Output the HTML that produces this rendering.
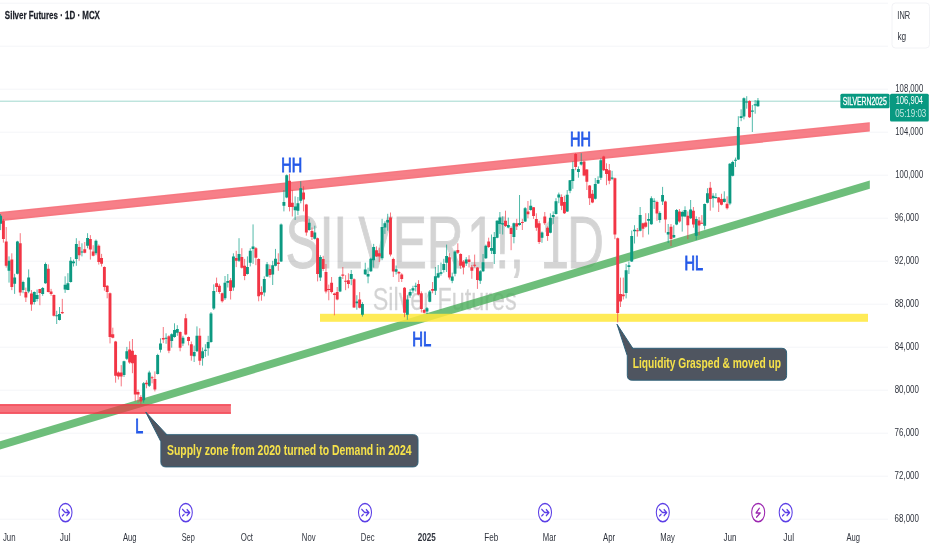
<!DOCTYPE html>
<html lang="en"><head><meta charset="utf-8"><title>Silver Futures · 1D · MCX</title>
<style>
html,body{margin:0;padding:0;background:#fff;}
body{width:932px;height:550px;overflow:hidden;}
svg{display:block;}
text{font-family:"Liberation Sans","DejaVu Sans",sans-serif;}
.ax{fill:#2f333d;}
.lbl{fill:#2459e8;stroke:#2459e8;stroke-width:0.9;}
.co{fill:#f6e24a;}
</style></head><body>
<svg width="932" height="550" viewBox="0 0 932 550">
<defs><filter id="bl" x="0" y="0" width="932" height="550" filterUnits="userSpaceOnUse"><feGaussianBlur stdDeviation="0.3 0.2"/></filter></defs>
<rect width="932" height="550" fill="#ffffff"/>
<g stroke="#f4f5f8" stroke-width="1" fill="none">
<line x1="0" y1="3.2" x2="888" y2="3.2"/>
<line x1="0" y1="46.2" x2="888" y2="46.2"/>
<line x1="0" y1="89.2" x2="888" y2="89.2"/>
<line x1="0" y1="132.2" x2="888" y2="132.2"/>
<line x1="0" y1="175.2" x2="888" y2="175.2"/>
<line x1="0" y1="218.2" x2="888" y2="218.2"/>
<line x1="0" y1="261.2" x2="888" y2="261.2"/>
<line x1="0" y1="304.2" x2="888" y2="304.2"/>
<line x1="0" y1="347.2" x2="888" y2="347.2"/>
<line x1="0" y1="390.2" x2="888" y2="390.2"/>
<line x1="0" y1="433.2" x2="888" y2="433.2"/>
<line x1="0" y1="476.2" x2="888" y2="476.2"/>
<line x1="0" y1="519.2" x2="888" y2="519.2"/>
</g>
<g fill="#000" stroke="#000" stroke-width="1.1" opacity="0.165">
<text transform="translate(0 267.6) scale(0.6963 1)" font-size="73.5"><tspan x="410">SILVER</tspan><tspan x="670.81">1</tspan><tspan x="711.28">!</tspan><tspan x="732.25">, </tspan><tspan x="776.08">1</tspan><tspan x="814.21">D</tspan></text>
</g>
<g fill="#000" stroke="#000" stroke-width="0.3" opacity="0.17">
<text transform="translate(372.7 310.2) scale(0.7416 1)" font-size="31.5">Silver Futures</text>
</g>
<line x1="0" y1="101.2" x2="890" y2="101.2" stroke="#089981" stroke-opacity="0.38" stroke-width="1"/>
<path d="M-2 212.21L869.8 122.15V131.45L-2 221.51z" fill="#f23645" fill-opacity="0.64"/>
<path d="M-2 212.81L869.3 122.76M-2 220.49L869.3 130.44" stroke="#f23645" stroke-opacity="0.1" stroke-width="1.6" fill="none"/>
<path d="M-2 441.8L869.8 180.43V188.73L-2 450.1z" fill="#4aae5a" fill-opacity="0.8"/>
<rect x="320" y="313.8" width="548" height="8" fill="#ffe83a" fill-opacity="0.85"/>
<rect x="-2" y="404.1" width="232.9" height="9.8" fill="#f23645" fill-opacity="0.7"/>
<path d="M-2 405H230.9M-2 413H230.9" stroke="#f23645" stroke-opacity="0.45" stroke-width="1.8" fill="none"/>
<g filter="url(#bl)">
<path d="M0.6 214V230.1M9.02 256.4V282.6M14.62 273.8V293.9M17.43 240.8V274.4M23.04 280.7V293.2M28.65 269.4V293.2M34.26 291.4V304.5M37.07 289.5V301.4M42.68 287V295.8M45.48 262.5V283.8M56.7 310.8V324M59.51 307V320.5M65.11 276.3V292.9M67.92 273.2V290.1M70.72 257.1V282.6M73.53 259.6V266.5M76.33 238.2V265.8M81.94 243.3V256.4M87.55 233.2V248.3M95.97 239.5V255.2M124.02 360.7V377M126.83 346.9V360M143.66 382V402.7M149.27 370.7V387M157.68 353.8V374.5M160.49 338.3V352.5M166.09 333.3V343.8M171.71 333.3V347.7M174.51 323.3V337.7M177.31 325.2V335.8M182.93 335.8V346.1M194.15 345.6V362M196.95 326.4V351.9M202.56 347.5V365.7M205.37 344.2V356.9M208.17 335.8V355.7M210.97 312V342.8M213.78 284.4V310M225 276V300M227.81 274V287.5M233.42 253.3V290.7M239.03 238.2V262M247.44 256.4V274.5M250.25 248.2V266.4M253.05 224.4V263.9M264.27 276.3V296.3M267.08 262V277M272.69 260.8V285M275.49 248.9V266.4M281.1 223.5V262M283.91 190.1V211.4M286.71 174.4V198.2M295.13 196.4V220M297.93 197V215.2M300.74 181.3V203.3M309.15 218.8V230.7M314.76 225.7V239.5M320.37 255.2V281M340.01 275.8V292.1M351.23 270V285.2M356.84 295.2V309.7M362.45 302.2V316.6M365.25 262.7V275M368.06 267.7V283.3M370.86 257.7V272M373.67 243.9V267.6M382.08 218.8V260.2M384.89 221.3V233.9M387.69 213.8V230.7M396.11 265.5V274.5M407.33 295.2V319.7M410.13 289V297.8M412.94 285.8V293.4M415.74 282.7V291.5M426.96 307V314M429.77 290V302.3M435.38 267V295M438.18 265V278.2M440.99 262.5V275.7M443.79 258.8V272.6M446.6 244.6V272M452.21 272.6V283.2M455.01 250.2V276.3M466.23 257.1V266M480.26 270V283.9M483.06 254V272M485.87 244.6V259M491.48 234.5V254M494.28 232V264M497.09 220.1V238.3M499.89 212V233.9M502.7 216.3V234.5M508.31 217.6V228.3M513.92 222.6V243.3M519.53 195V225.7M525.14 207V222M530.75 199.5V210.7M541.97 231.5V242.8M550.38 213.3V233.3M553.19 211.4V223.9M555.99 198.2V214.5M558.8 192.6V203.2M567.21 190V212M570.02 180V193.2M572.82 161.4V188.8M578.43 166.4V177.7M581.24 153.2V165.5M595.26 178V199.5M598.07 176.3V184M600.87 158.3V180M612.09 170.8V180.2M626.12 263.9V298.4M628.92 261.4V274M631.73 230.5V262M634.53 225.2V243.5M640.14 207V231.4M648.56 213.2V234.5M651.36 196.3V224.8M654.17 198.2V208.9M659.78 211.4V222.7M662.58 186.9V205M668.19 224V243M673.8 225.2V238.2M676.61 209V225.2M682.22 210.7V231.6M685.02 206.3V217.2M690.63 200V219M696.24 216.4V240.1M704.66 203.5V229.6M707.46 188.2V203.4M713.07 193.2V207.6M715.88 193.2V198.8M724.29 191.3V202.6M729.9 163V205.2M732.71 160.7V176.4M735.51 157.6V167M738.32 116.2V160M741.12 109.3V121.2M743.93 97.4V119.4M746.73 96.2V108.7M752.34 105V132M755.15 100V113.7M757.95 98V106.8" stroke="#089981" stroke-width="1" stroke-opacity="0.68" fill="none"/>
<path d="M3.41 219V242.6M6.21 227V267.6M11.82 253.3V290.1M20.24 233.2V295.8M25.85 287.6V302M31.46 290.1V310.8M39.87 288.9V305.2M48.29 264.4V292.4M51.09 288.9V295.8M53.9 294.5V316.5M62.31 298.9V314M79.14 240.8V260.8M84.75 242V253.3M90.36 235.1V259.6M93.17 245.2V256.4M98.78 244.5V264.6M101.58 253.9V266.5M104.39 266.3V290.7M107.19 285.1V298.3M110 292.5V343.4M112.8 327.7V338.3M115.61 340.9V382.7M118.41 371.4V379.5M121.22 365.1V386.4M129.63 341.3V363.8M132.44 339V373.2M135.24 354.4V401.5M138.05 389.6V402.7M140.85 395.2V404M146.46 380.2V388.3M152.07 375.8V383.3M154.88 371.4V391.4M163.29 327V343.1M168.9 335.2V353.2M180.12 331.4V351.3M185.73 313.9V335.2M188.53 336.5V345.4M191.34 341.5V360.7M199.75 328.3V365.1M216.59 277.6V292M219.39 283.8V293.8M222.19 292.6V302.6M230.61 278V299.5M236.22 250.8V267.1M241.83 248.2V268.5M244.64 258.9V280.2M255.86 247V265.2M258.66 258.3V301.3M261.47 286.3V300.7M269.88 264.6V277.5M278.3 253.3V270.8M289.52 173.8V211.4M292.32 190.1V216.5M303.54 186.3V211.4M306.35 203.9V235.7M311.96 227.5V240M317.57 237.6V281.4M323.18 255.8V271M325.98 264V293.4M328.79 284.6V300.3M331.59 277V293.4M334.4 292.7V315.3M337.2 287V300.3M342.81 267V279M345.62 275.2V290.2M348.42 273.3V288.3M354.03 278.3V308M359.64 292.1V308.4M376.47 246.4V257M379.28 247.7V262M390.5 212.5V256.4M393.3 257.7V277M398.91 271V282M401.72 273.3V282M404.52 287V317.2M418.55 280.2V295.2M421.35 291.4V312.5M424.16 309V313.5M432.57 282V293.3M449.4 253.3V279.5M457.82 243.3V254M460.62 253.3V268.8M463.43 260V274.4M469.04 255.2V267.5M471.84 265V278.8M474.65 254.6V267.5M477.45 267V288.9M488.67 237.7V248M505.5 210.7V227M511.11 226.4V250.2M516.72 218.8V230M522.33 218.8V230M527.94 201V218.3M533.55 207V218.9M536.36 213.3V230.8M539.16 220.8V244M544.77 212V225M547.58 226.4V240.9M561.6 194.4V210.1M564.41 195.7V214M575.62 153.2V170.2M584.04 160.8V176.3M586.85 169V190M589.65 185V205M592.46 190V203.2M603.68 155.8V171M606.48 163.3V185.2M609.29 164V184.2M614.9 177.5V239.2M617.7 237.5V322.4M620.51 277.6V307M623.31 277.6V299.5M637.34 228V236.6M642.95 222.7V237.3M645.75 213.2V227.7M656.97 200.7V220.8M665.39 200.7V232.6M671 224V246M679.41 209V222.7M687.83 211.4V239.2M693.44 207V227.7M699.05 217V235.1M701.85 215.1V223.8M710.27 181.9V210.7M718.68 197V212M721.49 193.8V205.4M727.1 196.3V209.5M749.54 100.3V118" stroke="#f23645" stroke-width="1" stroke-opacity="0.68" fill="none"/>
<path d="M-0.85 215.7h2.9V223.8h-2.9zM7.57 260.8h2.9V270.7h-2.9zM13.18 277.6h2.9V283.8h-2.9zM15.98 241.4h2.9V273.8h-2.9zM21.59 282h2.9V290.1h-2.9zM27.2 277.6h2.9V291.4h-2.9zM32.81 292h2.9V302h-2.9zM35.62 295.1h2.9V298.9h-2.9zM41.23 287.9h2.9V294.1h-2.9zM44.03 264h2.9V283.2h-2.9zM55.25 315.2h2.9V316.2h-2.9zM58.05 314h2.9V320h-2.9zM63.66 284.8h2.9V289.5h-2.9zM66.47 283.2h2.9V289.9h-2.9zM69.27 260.8h2.9V282h-2.9zM72.08 261.5h2.9V263.3h-2.9zM74.88 244.1h2.9V259h-2.9zM80.49 251.4h2.9V252.4h-2.9zM86.1 237.9h2.9V245.8h-2.9zM94.52 240.8h2.9V253.3h-2.9zM122.57 361.3h2.9V375.1h-2.9zM125.38 351.3h2.9V358.8h-2.9zM142.21 383.3h2.9V400.2h-2.9zM147.82 372.4h2.9V385.8h-2.9zM156.23 355.1h2.9V373.9h-2.9zM159.04 343.4h2.9V349.8h-2.9zM164.65 337.7h2.9V338.7h-2.9zM170.26 334.2h2.9V340.9h-2.9zM173.06 329.9h2.9V337.1h-2.9zM175.87 328.9h2.9V332.7h-2.9zM181.48 337.7h2.9V343.6h-2.9zM192.7 351.9h2.9V356.3h-2.9zM195.5 335.8h2.9V351.3h-2.9zM201.11 351.3h2.9V358.2h-2.9zM203.92 349.75h2.9V350.75h-2.9zM206.72 342.1h2.9V348.2h-2.9zM209.53 313.6h2.9V342h-2.9zM212.33 291h2.9V308.6h-2.9zM223.55 282.8h2.9V298.2h-2.9zM226.36 280.9h2.9V282.8h-2.9zM231.97 256.4h2.9V287.5h-2.9zM237.58 253.9h2.9V260.8h-2.9zM245.99 267.1h2.9V274h-2.9zM248.8 250.8h2.9V262.7h-2.9zM251.6 246.4h2.9V248.9h-2.9zM262.82 279h2.9V292.6h-2.9zM265.63 264.2h2.9V276.5h-2.9zM271.24 265.2h2.9V274.6h-2.9zM274.04 258.7h2.9V265.8h-2.9zM279.65 224.4h2.9V261.4h-2.9zM282.46 202h2.9V205.8h-2.9zM285.26 175.3h2.9V197.6h-2.9zM293.68 206.4h2.9V210.2h-2.9zM296.48 203.3h2.9V210.8h-2.9zM299.29 188.2h2.9V200.8h-2.9zM307.7 222.8h2.9V230h-2.9zM313.31 232.6h2.9V238.8h-2.9zM318.92 257h2.9V277.6h-2.9zM338.56 277h2.9V291.5h-2.9zM349.78 273.9h2.9V278.9h-2.9zM355.39 301.5h2.9V303.2h-2.9zM361 304h2.9V314.7h-2.9zM363.8 269.5h2.9V274.3h-2.9zM366.61 273.9h2.9V276.4h-2.9zM369.41 258.7h2.9V271.2h-2.9zM372.22 247h2.9V260.2h-2.9zM380.63 227h2.9V258.3h-2.9zM383.44 223.2h2.9V227.6h-2.9zM386.24 220h2.9V222.6h-2.9zM394.66 269.2h2.9V271.7h-2.9zM405.88 299.6h2.9V314.7h-2.9zM408.68 292h2.9V295.6h-2.9zM411.49 288.3h2.9V290.6h-2.9zM414.29 285.7h2.9V286.7h-2.9zM425.51 308.3h2.9V311.5h-2.9zM428.32 291.4h2.9V301.7h-2.9zM433.93 276.3h2.9V290.8h-2.9zM436.73 273.2h2.9V277.6h-2.9zM439.54 272.3h2.9V273.8h-2.9zM442.34 264h2.9V270h-2.9zM445.15 255.9h2.9V262.8h-2.9zM450.76 276.6h2.9V280.7h-2.9zM453.56 251.5h2.9V273.8h-2.9zM464.78 259.6h2.9V263.5h-2.9zM478.81 271.3h2.9V280.7h-2.9zM481.61 262.2h2.9V271.3h-2.9zM484.42 245.8h2.9V258.3h-2.9zM490.03 248h2.9V250.8h-2.9zM492.83 237h2.9V254h-2.9zM495.64 220.7h2.9V237.7h-2.9zM498.44 217.6h2.9V223.9h-2.9zM501.25 223.2h2.9V224.5h-2.9zM506.86 225h2.9V227.4h-2.9zM512.47 223.2h2.9V237h-2.9zM518.08 222.9h2.9V224.9h-2.9zM523.69 208.2h2.9V221.5h-2.9zM529.29 205.8h2.9V210h-2.9zM540.51 232.5h2.9V237.7h-2.9zM548.93 217.7h2.9V232.7h-2.9zM551.74 214.9h2.9V217h-2.9zM554.54 201.3h2.9V213.9h-2.9zM557.35 194.4h2.9V197.6h-2.9zM565.76 194.8h2.9V211.4h-2.9zM568.57 180.3h2.9V190.7h-2.9zM571.37 168.9h2.9V181h-2.9zM576.98 168.9h2.9V172h-2.9zM579.78 162h2.9V164.5h-2.9zM593.81 184h2.9V198.8h-2.9zM596.62 180.1h2.9V183.5h-2.9zM599.42 160.2h2.9V177.8h-2.9zM610.64 177.5h2.9V178.7h-2.9zM624.66 270.2h2.9V292.9h-2.9zM627.47 265.2h2.9V267h-2.9zM630.27 236h2.9V261.4h-2.9zM633.08 229.7h2.9V231.3h-2.9zM638.69 215.1h2.9V230.8h-2.9zM647.11 218.9h2.9V220.8h-2.9zM649.91 198.2h2.9V224.2h-2.9zM652.72 200.65h2.9V201.65h-2.9zM658.33 212.9h2.9V219.9h-2.9zM661.13 195h2.9V201.6h-2.9zM666.74 232h2.9V234.5h-2.9zM672.35 235h2.9V237.5h-2.9zM675.15 209.9h2.9V224.5h-2.9zM680.76 212h2.9V216.6h-2.9zM683.57 209.9h2.9V216.6h-2.9zM689.18 209.5h2.9V218.3h-2.9zM694.79 218.9h2.9V235.8h-2.9zM703.21 204.1h2.9V225.8h-2.9zM706.01 193.2h2.9V202.8h-2.9zM711.62 195.7h2.9V198.2h-2.9zM714.43 196.9h2.9V197.9h-2.9zM722.84 198.8h2.9V202h-2.9zM728.45 163.8h2.9V203.5h-2.9zM731.25 162h2.9V175.8h-2.9zM734.06 159.75h2.9V160.75h-2.9zM736.87 126.9h2.9V159.4h-2.9zM739.67 116.2h2.9V118.1h-2.9zM742.48 98.3h2.9V116.6h-2.9zM745.28 101.5h2.9V102.5h-2.9zM750.89 110.6h2.9V111.8h-2.9zM753.7 104.3h2.9V105.6h-2.9zM756.5 100.5h2.9V106.2h-2.9z" fill="#089981"/>
<path d="M1.96 220.7h2.9V238.9h-2.9zM4.76 241.4h2.9V265.8h-2.9zM10.37 259.6h2.9V287h-2.9zM18.79 243.3h2.9V292.6h-2.9zM24.4 292h2.9V297.6h-2.9zM30.01 293.6h2.9V304.5h-2.9zM38.42 289.1h2.9V292.9h-2.9zM46.84 268.8h2.9V292h-2.9zM49.64 291.4h2.9V294.1h-2.9zM52.45 294.9h2.9V315.8h-2.9zM60.86 312h2.9V313.3h-2.9zM77.69 247h2.9V255.2h-2.9zM83.3 249.2h2.9V252.7h-2.9zM88.91 239.1h2.9V249.5h-2.9zM91.72 251.4h2.9V255.8h-2.9zM97.33 245.8h2.9V262.1h-2.9zM100.13 258h2.9V263.7h-2.9zM102.94 266.9h2.9V287h-2.9zM105.74 285.7h2.9V292h-2.9zM108.55 293.2h2.9V337.1h-2.9zM111.35 334.2h2.9V337.7h-2.9zM114.16 341.5h2.9V375.8h-2.9zM116.96 372.4h2.9V376.4h-2.9zM119.77 372.4h2.9V376.4h-2.9zM128.18 349.4h2.9V362.6h-2.9zM130.99 350.7h2.9V363.2h-2.9zM133.79 355.1h2.9V394.6h-2.9zM136.6 392.1h2.9V394.6h-2.9zM139.4 397.1h2.9V401.5h-2.9zM145.01 382.7h2.9V384.2h-2.9zM150.62 377.35h2.9V378.35h-2.9zM153.43 378.9h2.9V389.6h-2.9zM161.84 338h2.9V339.6h-2.9zM167.45 336.2h2.9V350.7h-2.9zM178.67 332.1h2.9V347.7h-2.9zM184.28 318.3h2.9V334.6h-2.9zM187.09 337.1h2.9V341h-2.9zM189.89 344.2h2.9V355.7h-2.9zM198.31 335.8h2.9V360.7h-2.9zM215.14 283.2h2.9V286.9h-2.9zM217.94 285.7h2.9V292h-2.9zM220.75 293.2h2.9V301.3h-2.9zM229.16 280.3h2.9V291h-2.9zM234.77 257.9h2.9V260.8h-2.9zM240.38 257h2.9V267.7h-2.9zM243.19 265.8h2.9V276h-2.9zM254.41 248.2h2.9V257.7h-2.9zM257.21 258.9h2.9V296.3h-2.9zM260.02 292h2.9V294.8h-2.9zM268.43 269h2.9V275h-2.9zM276.85 262.4h2.9V263.9h-2.9zM288.07 180.7h2.9V207h-2.9zM290.87 202.7h2.9V207h-2.9zM302.09 192.4h2.9V199.5h-2.9zM304.9 204.5h2.9V232.6h-2.9zM310.51 231h2.9V237h-2.9zM316.12 238.2h2.9V274h-2.9zM321.73 259h2.9V269h-2.9zM324.53 272h2.9V291.5h-2.9zM327.34 289h2.9V290h-2.9zM330.14 282.7h2.9V292.1h-2.9zM332.95 293.4h2.9V294.9h-2.9zM335.75 291.9h2.9V299.6h-2.9zM341.36 274.5h2.9V275.8h-2.9zM344.17 280.8h2.9V281.8h-2.9zM346.97 280.2h2.9V284h-2.9zM352.58 279.3h2.9V307.4h-2.9zM358.19 299.4h2.9V307.8h-2.9zM375.02 250.2h2.9V256.4h-2.9zM377.83 253.3h2.9V256.4h-2.9zM389.05 217.5h2.9V254.6h-2.9zM391.85 259h2.9V271.4h-2.9zM397.46 272h2.9V273.5h-2.9zM400.27 274.5h2.9V279h-2.9zM403.07 287.7h2.9V312.8h-2.9zM417.1 284h2.9V294.6h-2.9zM419.9 293.3h2.9V309h-2.9zM422.71 310h2.9V312.7h-2.9zM431.12 289h2.9V290.8h-2.9zM447.95 257.2h2.9V277.6h-2.9zM456.37 250h2.9V252.7h-2.9zM459.17 254h2.9V265.7h-2.9zM461.98 261.4h2.9V267.5h-2.9zM467.59 259.5h2.9V262h-2.9zM470.39 267.3h2.9V270.7h-2.9zM473.2 264.75h2.9V265.75h-2.9zM476 267.5h2.9V280h-2.9zM487.22 241.4h2.9V247.1h-2.9zM504.05 220.7h2.9V226.1h-2.9zM509.66 227.9h2.9V233.9h-2.9zM515.27 223.2h2.9V226.6h-2.9zM520.88 222.1h2.9V223.1h-2.9zM526.49 211.4h2.9V214.2h-2.9zM532.1 207.2h2.9V216h-2.9zM534.9 218.9h2.9V227.7h-2.9zM537.71 223.3h2.9V242.1h-2.9zM543.32 216.4h2.9V223.3h-2.9zM546.12 227.7h2.9V235.9h-2.9zM560.15 197h2.9V205.7h-2.9zM562.96 202h2.9V213.3h-2.9zM574.17 153.9h2.9V167h-2.9zM582.59 161.4h2.9V175.5h-2.9zM585.39 169.6h2.9V181.7h-2.9zM588.2 185.5h2.9V198.2h-2.9zM591 193.8h2.9V202.6h-2.9zM602.23 156.6h2.9V170.2h-2.9zM605.03 168.9h2.9V174h-2.9zM607.84 170.2h2.9V180.8h-2.9zM613.45 178.2h2.9V234.5h-2.9zM616.25 238.3h2.9V313.1h-2.9zM619.06 294h2.9V301.6h-2.9zM621.86 294.5h2.9V296.2h-2.9zM635.88 230.2h2.9V231.2h-2.9zM641.5 223.3h2.9V228.7h-2.9zM644.3 222.4h2.9V226.8h-2.9zM655.52 202h2.9V213.6h-2.9zM663.94 201.6h2.9V219.5h-2.9zM669.54 226.8h2.9V238.9h-2.9zM677.96 211.6h2.9V221.4h-2.9zM686.38 215.8h2.9V225.2h-2.9zM691.99 210.7h2.9V224.5h-2.9zM697.6 220.4h2.9V225.4h-2.9zM700.4 222.65h2.9V223.65h-2.9zM708.82 187.8h2.9V198.9h-2.9zM717.23 197.6h2.9V202.6h-2.9zM720.03 199h2.9V204.8h-2.9zM725.64 203.8h2.9V208.2h-2.9zM748.09 101.1h2.9V117.2h-2.9z" fill="#f23645"/>
</g>
<text transform="translate(281.26 172.3) scale(0.6882 1)" font-size="21" class="lbl">HH</text>
<text transform="translate(569.95 146) scale(0.6920 1)" font-size="21" class="lbl">HH</text>
<text transform="translate(412.32 346) scale(0.7087 1)" font-size="21" class="lbl">HL</text>
<text transform="translate(684.55 270.1) scale(0.6923 1)" font-size="21" class="lbl">HL</text>
<text transform="translate(135.37 433.3) scale(0.6818 1)" font-size="21" class="lbl">L</text>
<path d="M165.7 434.7H413.2Q418 434.7 418 439.5V462.1Q418 466.9 413.2 466.9H165.7Q160.9 466.9 160.9 462.1V441.7L145.7 412L166.9 434.7z" fill="#4f5560" stroke="#2f6078" stroke-width="1" stroke-linejoin="round"/>
<text transform="translate(166.99 454.9) scale(0.7317 1)" font-size="14.3" font-weight="bold" class="co">Supply zone from 2020 turned to Demand in 2024</text>
<path d="M632.1 348.3H781.8Q786.6 348.3 786.6 353.1V375.4Q786.6 380.2 781.8 380.2H632.1Q627.3 380.2 627.3 375.4V355.8L617 324.2L632.8 348.3z" fill="#4f5560" stroke="#2f6078" stroke-width="1" stroke-linejoin="round"/>
<text transform="translate(632.71 368.3) scale(0.7112 1)" font-size="14.4" font-weight="bold" class="co">Liquidity Grasped &amp; moved up</text>
<text transform="translate(895.32 92.15) scale(0.7143 1)" font-size="10.8" class="ax">108,000</text>
<text transform="translate(895.32 135.15) scale(0.7143 1)" font-size="10.8" class="ax">104,000</text>
<text transform="translate(895.32 178.15) scale(0.7143 1)" font-size="10.8" class="ax">100,000</text>
<text transform="translate(894.62 221.15) scale(0.7382 1)" font-size="10.8" class="ax">96,000</text>
<text transform="translate(894.62 264.15) scale(0.7382 1)" font-size="10.8" class="ax">92,000</text>
<text transform="translate(894.66 307.15) scale(0.7370 1)" font-size="10.8" class="ax">88,000</text>
<text transform="translate(894.66 350.15) scale(0.7370 1)" font-size="10.8" class="ax">84,000</text>
<text transform="translate(894.66 393.15) scale(0.7370 1)" font-size="10.8" class="ax">80,000</text>
<text transform="translate(894.6 436.15) scale(0.7389 1)" font-size="10.8" class="ax">76,000</text>
<text transform="translate(894.6 479.15) scale(0.7389 1)" font-size="10.8" class="ax">72,000</text>
<text transform="translate(894.6 522.15) scale(0.7389 1)" font-size="10.8" class="ax">68,000</text>
<rect x="840.4" y="93.8" width="49.2" height="14.5" rx="1.5" fill="#089981"/>
<text transform="translate(842.66 105.1) scale(0.5921 1)" font-size="11.6" fill="#fff" stroke="#fff" stroke-width="0.35">SILVERN2025</text>
<rect x="890" y="93.8" width="38.8" height="27.8" rx="1.5" fill="#089981"/>
<text transform="translate(895.63 104.3) scale(0.7043 1)" font-size="10.8" fill="#fff">106,904</text>
<text transform="translate(895.28 117.4) scale(0.7388 1)" font-size="10.8" fill="#fff" fill-opacity="0.78">05:19:03</text>
<rect x="892" y="3" width="37.5" height="45" rx="3.5" fill="#fff" stroke="#f2f3f6" stroke-width="1"/>
<text transform="translate(897.31 18.8) scale(0.6904 1)" font-size="10.8" class="ax">INR</text>
<text transform="translate(897.44 39.5) scale(0.7708 1)" font-size="10.8" class="ax">kg</text>
<text transform="translate(4.86 18.9) scale(0.6870 1)" font-size="11.6" font-weight="bold" fill="#1a1d26" stroke="#1a1d26" stroke-width="0.25">Silver Futures · 1D · MCX</text>
<text transform="translate(2.88 541.3) scale(0.7250 1)" font-size="10.8" class="ax">Jun</text>
<text transform="translate(59.87 541.3) scale(0.7748 1)" font-size="10.8" class="ax">Jul</text>
<text transform="translate(122.98 541.3) scale(0.7029 1)" font-size="10.8" class="ax">Aug</text>
<text transform="translate(181.67 541.3) scale(0.6838 1)" font-size="10.8" class="ax">Sep</text>
<text transform="translate(240.83 541.3) scale(0.7284 1)" font-size="10.8" class="ax">Oct</text>
<text transform="translate(301.87 541.3) scale(0.7112 1)" font-size="10.8" class="ax">Nov</text>
<text transform="translate(360.87 541.3) scale(0.7108 1)" font-size="10.8" class="ax">Dec</text>
<text transform="translate(417.72 541.3) scale(0.7502 1)" font-size="10.8" font-weight="bold" class="ax">2025</text>
<text transform="translate(484.33 541.3) scale(0.7523 1)" font-size="10.8" class="ax">Feb</text>
<text transform="translate(542.87 541.3) scale(0.7123 1)" font-size="10.8" class="ax">Mar</text>
<text transform="translate(602.98 541.3) scale(0.7227 1)" font-size="10.8" class="ax">Apr</text>
<text transform="translate(660.37 541.3) scale(0.7079 1)" font-size="10.8" class="ax">May</text>
<text transform="translate(723.38 541.3) scale(0.7552 1)" font-size="10.8" class="ax">Jun</text>
<text transform="translate(783.37 541.3) scale(0.7748 1)" font-size="10.8" class="ax">Jul</text>
<text transform="translate(846.48 541.3) scale(0.7029 1)" font-size="10.8" class="ax">Aug</text>
<g transform="translate(65.5 512.6) scale(0.706 1)" fill="none" stroke="#5b3ee6" stroke-width="1.5" stroke-linecap="round" stroke-linejoin="round">
<circle cx="0" cy="0" r="13" fill="#fff" stroke="none"/>
<circle cx="0" cy="0" r="9.2"/>
<path d="M-4.6 -3.2L-0.3 0H5.6M1.8 -3L5.6 0L1.8 3M-4.6 3.3L-2.4 1.7"/>
</g>
<g transform="translate(185.8 512.6) scale(0.706 1)" fill="none" stroke="#5b3ee6" stroke-width="1.5" stroke-linecap="round" stroke-linejoin="round">
<circle cx="0" cy="0" r="13" fill="#fff" stroke="none"/>
<circle cx="0" cy="0" r="9.2"/>
<path d="M-4.6 -3.2L-0.3 0H5.6M1.8 -3L5.6 0L1.8 3M-4.6 3.3L-2.4 1.7"/>
</g>
<g transform="translate(365 512.6) scale(0.706 1)" fill="none" stroke="#5b3ee6" stroke-width="1.5" stroke-linecap="round" stroke-linejoin="round">
<circle cx="0" cy="0" r="13" fill="#fff" stroke="none"/>
<circle cx="0" cy="0" r="9.2"/>
<path d="M-4.6 -3.2L-0.3 0H5.6M1.8 -3L5.6 0L1.8 3M-4.6 3.3L-2.4 1.7"/>
</g>
<g transform="translate(545 512.6) scale(0.706 1)" fill="none" stroke="#5b3ee6" stroke-width="1.5" stroke-linecap="round" stroke-linejoin="round">
<circle cx="0" cy="0" r="13" fill="#fff" stroke="none"/>
<circle cx="0" cy="0" r="9.2"/>
<path d="M-4.6 -3.2L-0.3 0H5.6M1.8 -3L5.6 0L1.8 3M-4.6 3.3L-2.4 1.7"/>
</g>
<g transform="translate(662.8 512.6) scale(0.706 1)" fill="none" stroke="#5b3ee6" stroke-width="1.5" stroke-linecap="round" stroke-linejoin="round">
<circle cx="0" cy="0" r="13" fill="#fff" stroke="none"/>
<circle cx="0" cy="0" r="9.2"/>
<path d="M-4.6 -3.2L-0.3 0H5.6M1.8 -3L5.6 0L1.8 3M-4.6 3.3L-2.4 1.7"/>
</g>
<g transform="translate(785.7 512.6) scale(0.706 1)" fill="none" stroke="#5b3ee6" stroke-width="1.5" stroke-linecap="round" stroke-linejoin="round">
<circle cx="0" cy="0" r="13" fill="#fff" stroke="none"/>
<circle cx="0" cy="0" r="9.2"/>
<path d="M-4.6 -3.2L-0.3 0H5.6M1.8 -3L5.6 0L1.8 3M-4.6 3.3L-2.4 1.7"/>
</g>
<g transform="translate(758.2 512.6) scale(0.706 1)" fill="none" stroke="#9c27b0" stroke-width="1.5" stroke-linecap="round" stroke-linejoin="round">
<circle cx="0" cy="0" r="13" fill="#fff" stroke="none"/>
<circle cx="0" cy="0" r="9.2"/>
<path d="M1.6 -4.3L-3 0.3H3L-2.3 4.6"/>
</g>
</svg>
</body></html>
